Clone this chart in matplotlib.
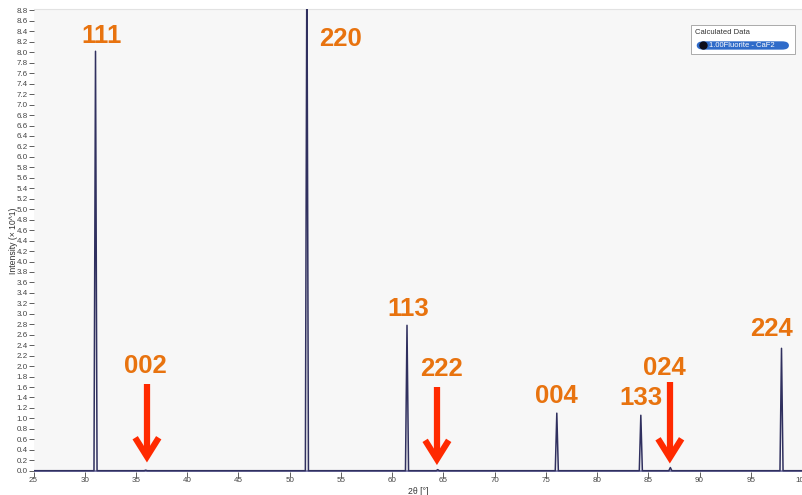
import numpy as np
import matplotlib.pyplot as plt
from matplotlib.patches import FancyBboxPatch, Rectangle

plt.rcParams['font.family'] = ['Liberation Sans', 'DejaVu Sans']

# calculated peak list for fluorite (CaF2)
hkl = ['111', '002', '220', '113', '222', '004', '133', '024', '224']
two_theta = [31.05, 35.95, 51.68, 61.45, 64.45, 76.07, 84.27, 87.15, 98.0]
intensity = [8.02, 0.01, 10.0, 2.78, 0.02, 1.10, 1.06, 0.06, 2.34]

# label anchor points (2theta, intensity) for the hkl tags
label_x = [31.6, 35.9, 55.0, 61.6, 64.85, 76.07, 84.27, 86.6, 97.05]
label_y = [8.31, 2.00, 8.26, 3.09, 1.94, 1.43, 1.39, 1.96, 2.70]

# reflections marked as weak/absent with an arrow
arrow_x = [36.07, 64.37, 87.1]
arrow_top = [1.65, 1.60, 1.69]
arrow_tip = [0.27, 0.22, 0.25]

half_width = 0.15
prof_x = [25.0]
prof_y = [0.0]
for pos, h in zip(two_theta, intensity):
    prof_x += [pos - half_width, pos, pos + half_width]
    prof_y += [0.0, h, 0.0]
prof_x.append(100.0)
prof_y.append(0.0)

fig = plt.figure(figsize=(8.02, 4.95), dpi=100)
ax = fig.add_axes([0.0418, 0.047, 0.9582, 0.935])
ax.set_facecolor('#f7f7f7')

ax.plot(prof_x, prof_y, color='#30305f', lw=1.1, zorder=3)
ax.axhline(0, color='#8282b0', lw=2.0, zorder=2)

for t, x, y in zip(hkl, label_x, label_y):
    ax.text(x, y, t, color='#e8730f', fontsize=18.5, fontweight='bold',
            ha='center', va='center', zorder=5)

# thick chevron arrows
for x, top, tip in zip(arrow_x, arrow_top, arrow_tip):
    ax.plot([x, x], [top, tip + 0.04], color='#ff2a00', lw=4.5,
            solid_capstyle='butt', zorder=6)
    ax.plot([x - 1.15, x, x + 1.15], [tip + 0.36, tip, tip + 0.36],
            color='#ff2a00', lw=4.5, solid_joinstyle='miter',
            solid_capstyle='butt', zorder=6)

ax.set_xlim(25, 100)
ax.set_ylim(-0.02, 8.83)
ax.set_xticks(np.arange(25, 101, 5))
ax.set_yticks(np.arange(0, 8.81, 0.2))
ax.yaxis.set_major_formatter(plt.FuncFormatter(lambda v, p: f'{v:.1f}'))
ax.tick_params(axis='both', labelsize=5.8, colors='#444444', length=3.5, width=0.6, pad=0.5)

for side in ['left', 'right', 'bottom']:
    ax.spines[side].set_visible(False)
ax.spines['top'].set_color('#e2e2e2')

ax.set_xlabel('2θ [°]', fontsize=6.2, color='#333333')
ax.xaxis.set_label_coords(0.5, -0.034)
ax.set_ylabel('Intensity (× 10^1)', fontsize=6.2, color='#333333', va='center')
ax.yaxis.set_label_coords(-0.0265, 0.5)

# legend box
lx0, ly0, lw_, lh_ = 0.855, 0.902, 0.136, 0.064
ax.add_patch(Rectangle((lx0, ly0), lw_, lh_, transform=ax.transAxes,
                       facecolor='white', edgecolor='#aaaaaa', lw=0.7, zorder=7))
ax.text(lx0 + 0.006, ly0 + lh_ - 0.018, 'Calculated Data', transform=ax.transAxes,
        fontsize=5.5, color='#333333', va='center', zorder=8)
ax.add_patch(FancyBboxPatch((lx0 + 0.008, ly0 + 0.01), lw_ - 0.016, 0.018,
                            boxstyle='round,pad=0,rounding_size=0.009',
                            transform=ax.transAxes, facecolor='#2f6bc9',
                            edgecolor='none', zorder=8, mutation_aspect=1))
ax.plot([lx0 + 0.016], [ly0 + 0.019], 'o', ms=5, color='#0d0d1a',
        transform=ax.transAxes, zorder=9, clip_on=False)
ax.text(lx0 + 0.024, ly0 + 0.019, '1.00Fluorite - CaF2', transform=ax.transAxes,
        fontsize=5.5, color='white', va='center', zorder=9)

fig.savefig('out.png', dpi=100)
